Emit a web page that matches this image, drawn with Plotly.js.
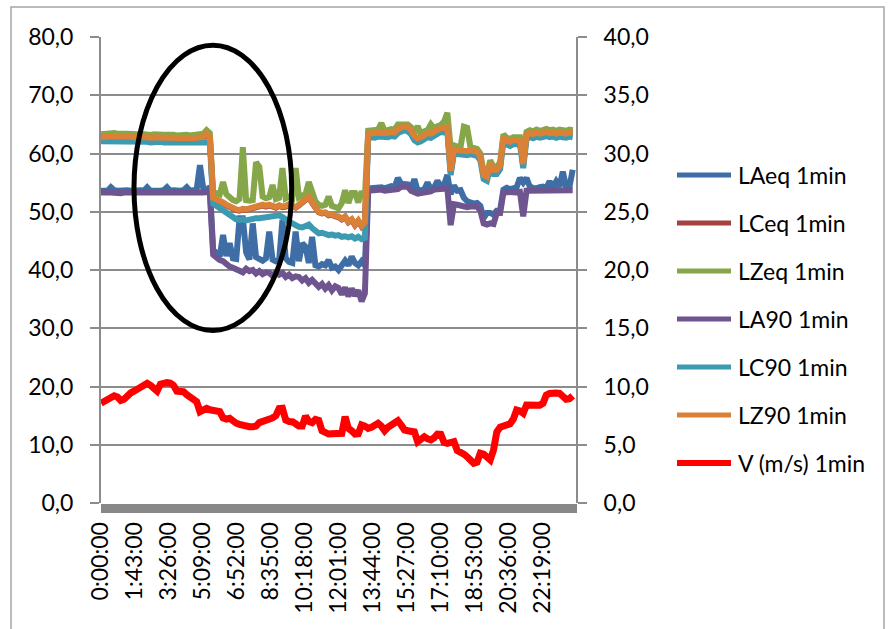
<!DOCTYPE html>
<html>
<head>
<meta charset="utf-8">
<script src="https://cdn.plot.ly/plotly-3.0.1.min.js"></script>
<style>
html,body{margin:0;padding:0;background:#fff;}
#chart{width:891px;height:629px;}
</style>
</head>
<body>
<div id="chart"></div>
<script>
const seriesNames = ['LAeq 1min','LCeq 1min','LZeq 1min','LA90 1min','LC90 1min','LZ90 1min','V (m/s) 1min'];
const seriesColors = ['#3F6EA6','#A5423F','#86A64A','#6F5590','#3C9AB1','#DA8137','#FF0000'];
const sampleStepMin = 10;

const tickMinutes = [0,103,206,309,412,515,618,721,824,927,1030,1133,1236,1339];
const tickLabels = ['0:00:00','1:43:00','3:26:00','5:09:00','6:52:00','8:35:00','10:18:00','12:01:00','13:44:00','15:27:00','17:10:00','18:53:00','20:36:00','22:19:00'];

const LAeq = [
53.6,53.7,53.6,54.2,53.7,53.6,53.7,53.6,53.7,53.6,
53.7,53.6,53.7,53.6,54.2,53.6,53.7,53.6,53.6,53.7,
54.2,53.6,53.7,53.6,53.6,53.7,54.2,53.6,53.7,53.8,
58.0,54.0,53.8,54.2,
43.5,42.8,42.3,46.0,42.4,44.6,42.0,41.9,48.9,48.9,
43.0,41.8,48.0,42.2,41.8,41.6,42.0,46.6,41.8,41.5,
41.6,48.6,42.0,41.4,41.2,46.6,41.5,44.6,44.0,41.2,
45.7,40.8,40.6,41.0,40.8,41.7,40.4,40.6,40.0,41.0,
41.6,40.8,42.3,41.2,40.8,41.5,40.8,
54.0,54.1,54.0,54.1,54.2,54.0,54.1,54.4,54.2,55.8,
54.8,54.8,54.7,54.0,55.6,53.6,53.7,53.8,55.0,53.9,
54.2,55.3,54.4,54.6,56.3,53.0,54.5,53.6,53.7,52.4,
51.8,51.5,51.4,51.5,51.0,48.9,49.8,49.8,49.5,50.2,
50.3,53.8,54.1,53.9,54.0,54.2,55.8,55.0,55.8,54.3,
54.1,54.0,54.2,54.3,54.1,55.2,54.2,55.2,54.3,56.9,
54.3,54.2,57.2
];

const LCeq = [
62.7,62.8,62.7,62.8,62.9,62.8,62.7,62.8,62.8,62.7,
62.8,62.7,62.8,62.7,62.7,62.6,62.7,62.6,62.7,62.6,
62.6,62.7,62.6,62.5,62.6,62.5,62.6,62.5,62.6,62.5,
62.6,62.7,63.2,62.8,
52.3,52.1,51.8,51.5,51.1,50.8,50.5,50.3,50.2,50.4,
50.3,50.5,50.5,50.8,50.9,51.1,50.9,51.1,50.9,50.7,
51.0,50.8,50.9,51.2,50.9,50.7,51.1,51.5,51.9,52.5,
51.5,50.5,49.9,49.7,49.8,49.4,49.5,49.2,49.1,48.7,
49.1,48.2,48.6,47.7,48.4,47.5,48.1,
63.3,63.4,63.3,63.5,63.4,63.3,63.4,63.6,63.5,64.1,
64.5,64.6,64.4,63.9,62.9,62.5,62.7,63.2,63.4,63.3,
63.7,64.1,64.3,64.2,64.4,56.9,60.6,60.5,60.4,60.5,
60.3,60.5,60.4,60.2,59.4,56.2,55.9,58.2,57.1,57.1,
57.9,62.7,62.1,61.9,62.2,62.1,62.2,58.1,63.1,63.4,
63.2,63.5,63.3,63.4,63.6,63.4,63.5,63.3,63.5,63.4,
63.3,63.5,63.4
];

const LZeq = [
63.3,63.4,63.3,63.4,63.5,63.4,63.3,63.4,63.4,63.3,
63.4,63.3,63.4,63.3,63.3,63.2,63.3,63.2,63.3,63.2,
63.2,63.3,63.2,63.1,63.2,63.1,63.2,63.1,63.2,63.1,
63.3,63.4,64.0,63.5,
53.0,53.2,53.0,55.1,53.0,52.3,52.0,51.8,52.2,61.1,
52.0,51.9,52.0,58.5,57.7,52.6,52.3,52.5,54.6,52.2,
52.4,57.5,52.3,52.6,52.3,57.5,52.5,52.8,53.0,55.1,
53.2,51.8,51.2,51.0,51.2,52.6,51.0,50.8,50.6,51.5,
53.7,51.5,53.2,53.2,51.6,53.5,52.4,
63.9,64.0,63.9,64.1,65.2,63.9,64.0,64.2,64.1,65.0,
65.0,65.1,65.0,64.5,63.5,64.7,63.3,63.8,64.0,65.0,
64.3,64.7,64.9,65.5,67.0,61.0,61.4,61.2,61.1,64.6,
64.4,61.1,61.0,60.8,60.0,56.8,56.5,58.8,57.7,57.7,
58.5,63.3,62.7,62.5,62.8,62.7,62.8,58.7,63.7,64.0,
63.8,64.1,63.9,64.0,64.2,64.0,64.1,63.9,64.1,64.0,
63.9,64.1,64.0
];

const LA90 = [
53.3,53.2,53.3,53.3,53.2,53.3,53.2,53.3,53.3,53.2,
53.3,53.2,53.3,53.2,53.2,53.2,53.3,53.2,53.2,53.1,
53.2,53.2,53.1,53.2,53.1,53.2,53.1,53.2,53.2,53.1,
53.2,53.3,53.4,53.3,
42.6,42.0,41.7,41.5,41.0,40.6,40.4,40.1,40.0,39.6,
40.2,39.8,40.0,39.4,39.8,39.3,39.6,39.5,39.0,39.6,
39.2,39.5,38.8,39.2,38.6,38.9,38.8,38.2,38.6,37.8,
38.3,37.5,37.1,37.6,36.8,37.4,36.5,37.2,36.9,35.8,
37.0,35.5,36.8,35.6,36.5,34.6,36.0,
53.6,53.7,53.6,53.7,53.8,53.6,53.7,53.8,53.7,53.9,
54.3,54.4,54.3,53.6,53.2,53.1,53.2,53.3,53.2,53.5,
53.8,53.9,54.0,54.0,54.0,47.7,51.3,51.2,51.0,50.9,
50.8,50.9,50.8,50.9,50.2,48.0,47.8,48.0,47.9,49.8,
49.8,53.3,53.4,53.3,53.4,53.3,53.4,49.2,53.6,53.6,
53.5,53.6,53.7,53.6,53.7,53.6,53.7,53.6,53.7,53.6,
53.7,53.6,53.7
];

const LC90 = [
62.1,62.1,62.0,62.1,62.2,62.1,62.0,62.1,62.1,62.0,
62.1,62.0,62.1,62.0,62.0,61.9,62.0,61.9,62.0,61.9,
61.9,62.0,61.9,61.8,61.9,61.8,61.9,61.8,61.9,61.8,
61.9,62.0,62.0,61.9,
51.4,51.0,50.4,50.0,49.6,49.2,48.9,48.7,48.6,48.7,
48.5,48.7,48.8,48.9,48.9,49.0,49.1,49.2,49.1,49.3,
49.4,49.1,48.6,48.3,48.0,47.6,47.4,47.3,47.5,47.8,
47.2,46.8,46.3,46.4,46.2,46.0,46.1,45.9,46.0,45.7,
45.8,45.6,45.8,45.4,45.7,45.3,45.5,
62.7,62.8,62.7,62.9,62.8,62.7,62.8,63.0,62.9,63.5,
63.9,64.0,63.8,63.3,62.3,61.9,62.1,62.6,62.8,62.7,
63.1,63.5,63.7,63.6,63.8,56.3,60.0,59.9,59.8,59.9,
59.7,59.9,59.8,59.6,58.8,55.6,55.3,57.6,56.5,56.5,
57.3,62.1,61.5,61.3,61.6,61.5,61.6,57.5,62.5,62.8,
62.6,62.9,62.7,62.8,63.0,62.8,62.9,62.7,62.9,62.8,
62.7,62.9,62.8
];

const LZ90 = [
62.8,62.9,62.8,62.9,63.0,62.9,62.8,62.9,62.9,62.8,
62.9,62.8,62.9,62.8,62.8,62.7,62.8,62.7,62.8,62.7,
62.7,62.8,62.7,62.6,62.7,62.6,62.7,62.6,62.7,62.6,
62.7,62.8,63.4,62.9,
52.4,52.2,51.9,51.6,51.2,50.9,50.6,50.4,50.3,50.5,
50.4,50.6,50.6,50.9,51.0,51.2,51.0,51.2,51.0,50.8,
51.1,50.9,51.0,51.3,51.0,50.8,51.2,51.6,52.0,52.6,
51.6,50.6,50.0,49.8,49.9,49.5,49.6,49.3,49.2,48.8,
49.2,48.3,48.7,47.8,48.5,47.6,48.2,
63.4,63.5,63.4,63.6,63.5,63.4,63.5,63.7,63.6,64.2,
64.6,64.7,64.5,64.0,63.0,62.6,62.8,63.3,63.5,63.4,
63.8,64.2,64.4,64.3,64.5,57.0,60.7,60.6,60.5,60.6,
60.4,60.6,60.5,60.3,59.5,56.3,56.0,58.3,57.2,57.2,
58.0,62.8,62.2,62.0,62.3,62.2,62.3,58.2,63.2,63.5,
63.3,63.6,63.4,63.5,63.7,63.5,63.6,63.4,63.6,63.5,
63.4,63.6,63.5
];

const windSpeed = [
8.56,8.7,8.9,9.1,9.2,9.1,8.8,8.9,9.3,9.45,
9.6,9.75,9.8,10.0,10.27,10.1,9.8,9.6,10.2,10.3,
10.33,10.3,10.1,9.6,9.55,9.55,9.3,9.1,9.0,8.7,
7.84,8.0,8.13,8.0,7.9,7.84,7.84,7.3,7.2,7.27,
7.0,6.85,6.75,6.65,6.6,6.55,6.55,6.6,6.9,7.0,
7.04,7.1,7.3,7.5,8.1,8.13,7.12,7.0,6.98,6.8,
6.6,6.6,7.47,7.0,6.9,7.18,7.1,6.2,6.0,5.92,
5.95,5.98,6.0,5.98,7.4,6.4,6.2,5.92,5.95,6.7,
6.6,6.41,6.5,6.6,6.84,6.6,6.2,6.5,6.7,6.9,
7.06,6.7,6.27,6.2,6.12,6.1,5.26,5.5,5.69,5.5,
5.41,5.6,5.92,5.9,5.2,5.12,5.2,5.26,4.5,4.4,
4.2,3.97,3.7,3.41,3.5,4.27,4.2,3.9,3.7,4.55,
6.1,6.5,6.6,6.7,6.8,7.2,7.98,7.9,7.7,8.41,
8.4,8.3,8.27,8.4,8.56,9.27,9.4,9.47,9.45,9.42,
9.1,8.9,8.95,9.2
];

// ---------- LAYOUT CONSTANTS (pixels) ----------
const W = 891, H = 629;
const PL = 101, PR = 576, PT = 37, PB = 503;
const FONT = 'Lato, "Open Sans", sans-serif';
const FS = 23;
const gridCol = '#8c8c8c';

const levelSeries = [LAeq, LCeq, LZeq, LA90, LC90, LZ90];
const traces = levelSeries.map((ys, i) => ({
  type: 'scatter', mode: 'lines', name: seriesNames[i],
  x0: 0, dx: sampleStepMin, y: ys, yaxis: 'y',
  line: {color: seriesColors[i], width: 6, shape: 'linear'}, hoverinfo: 'skip'
}));
traces.push({
  type: 'scatter', mode: 'lines', name: seriesNames[6],
  x0: 0, dx: sampleStepMin, y: windSpeed, yaxis: 'y2',
  line: {color: seriesColors[6], width: 7}, hoverinfo: 'skip'
});

const px2x = px => (px - PL) / (PR - PL);
const px2y = py => (PB - py) / (PB - PT);

const shapes = [];
const annotations = [];
// outer chart frame
shapes.push({type:'rect', xref:'paper', yref:'paper',
  x0: px2x(11), x1: px2x(884), y0: px2y(660), y1: px2y(7),
  line:{color:'#a6a6a6', width:1.5}, fillcolor:'rgba(0,0,0,0)', layer:'below'});
// highlight ellipse
shapes.push({type:'circle', xref:'x', yref:'y', x0:100, x1:578, y0:29.6, y1:78.6,
  line:{color:'#000', width:5}, layer:'above'});
// legend
const legTop = 175, legStep = 48;
seriesNames.forEach((nm, i) => {
  const yc = px2y(legTop + i * legStep);
  shapes.push({type:'line', xref:'paper', yref:'paper', x0:px2x(677), x1:px2x(731), y0:yc, y1:yc,
    line:{color: seriesColors[i], width: i === 6 ? 6 : 5}});
  annotations.push({xref:'paper', yref:'paper', x:px2x(736), y:yc, xanchor:'left', yanchor:'middle',
    text: nm, showarrow:false, font:{family:FONT, size:FS, color:'#000'}});
});

const layout = {
  width: W, height: H,
  margin: {l: PL, r: W - PR, t: PT, b: H - PB, pad: 0},
  paper_bgcolor: '#fff', plot_bgcolor: '#fff',
  separators: ', ',
  font: {family: FONT, size: FS, color: '#000'},
  showlegend: false,
  xaxis: {
    range: [0, 1440], tickmode: 'array', tickvals: tickMinutes, ticktext: tickLabels,
    tickangle: -90, ticks: 'outside', ticklen: 9, tickwidth: 1, tickcolor: '#888',
    showgrid: false, zeroline: false, showline: false, fixedrange: true,
    tickfont: {family: FONT, size: FS, color: '#000'},
    minor: {ticks: 'outside', ticklen: 9, tickwidth: 1, tickcolor: '#888', tick0: 0, dtick: 1, showgrid: false}
  },
  yaxis: {
    range: [0, 80], dtick: 10, tick0: 0, tickformat: '.1f',
    showgrid: true, gridcolor: gridCol, gridwidth: 2,
    showline: true, linecolor: gridCol, linewidth: 2,
    ticks: 'outside', ticklen: 9, tickwidth: 2, tickcolor: gridCol,
    zeroline: false, ticklabelstandoff: 12, fixedrange: true,
    tickfont: {family: FONT, size: FS, color: '#000'}
  },
  yaxis2: {
    range: [0, 40], dtick: 5, tick0: 0, tickformat: '.1f',
    overlaying: 'y', side: 'right', showgrid: false,
    showline: true, linecolor: gridCol, linewidth: 2,
    ticks: 'outside', ticklen: 9, tickwidth: 2, tickcolor: gridCol,
    zeroline: false, ticklabelstandoff: 12, fixedrange: true,
    tickfont: {family: FONT, size: FS, color: '#000'}
  },
  shapes: shapes,
  annotations: annotations
};

Plotly.newPlot('chart', traces, layout, {staticPlot: true, displayModeBar: false});
</script>
</body>
</html>
